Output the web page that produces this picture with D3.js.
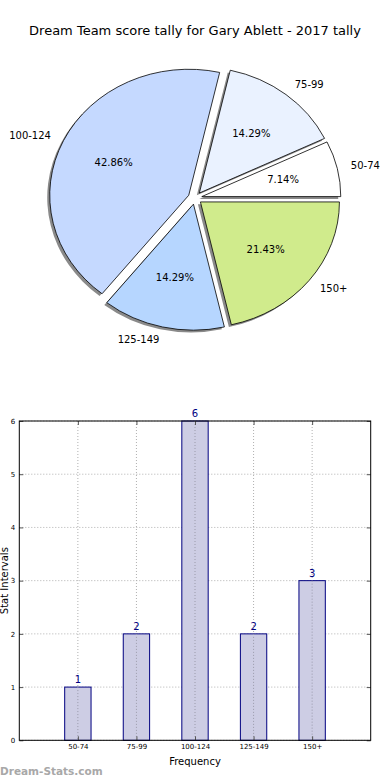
<!DOCTYPE html>
<html>
<head>
<meta charset="utf-8">
<script src="https://cdn.jsdelivr.net/npm/d3@7"></script>
<style>
  body { margin: 0; background: #fff; }
  svg { display: block; font-family: "DejaVu Sans", sans-serif; }
</style>
</head>
<body>
<svg id="chart" width="390" height="780"></svg>
<script>
// Data
const categories = ['50-74', '75-99', '100-124', '125-149', '150+'];
const counts = [1, 2, 6, 2, 3];
const sliceColors = ['#ffffff', '#eaf2ff', '#c5d9ff', '#b6d6ff', '#d0eb8c'];
const yTicks = [0, 1, 2, 3, 4, 5, 6];
const title = 'Dream Team score tally for Gary Ablett - 2017 tally';

const svg = d3.select('#chart');

// Title
svg.append('text')
    .attr('x', 195)
    .attr('y', 30)
    .attr('text-anchor', 'middle')
    .attr('dominant-baseline', 'central')
    .style('font-size', '13px')
    .text(title);

// ---------- Pie (matplotlib style, counter-clockwise from east, exploded) ----------
const cx = 195, cy = 198;
const rx = 139, ry = 126;
const explode = 0.05;
const total = d3.sum(counts);

const pie = d3.pie()
    .sort(null)
    .startAngle(Math.PI / 2)
    .endAngle(Math.PI / 2 - 2 * Math.PI);

const arcs = pie(counts);
const arc = d3.arc().innerRadius(0).outerRadius(rx);

const pieG = svg.append('g');

arcs.forEach(function(a, i) {
    const mid = (a.startAngle + a.endAngle) / 2;
    const ox = cx + explode * rx * Math.sin(mid);
    const oy = cy - explode * ry * Math.cos(mid);

    // shadow
    pieG.append('path')
        .attr('d', arc(a))
        .attr('transform', `translate(${ox - 2.5},${oy + 2.3}) scale(1,${ry / rx})`)
        .attr('fill', '#8a8a8a');

    // wedge
    pieG.append('path')
        .attr('d', arc(a))
        .attr('transform', `translate(${ox},${oy}) scale(1,${ry / rx})`)
        .attr('fill', sliceColors[i])
        .attr('stroke', '#000')
        .attr('stroke-width', 0.8)
        .attr('vector-effect', 'non-scaling-stroke');
});

arcs.forEach(function(a, i) {
    const mid = (a.startAngle + a.endAngle) / 2;
    const s = Math.sin(mid), c = Math.cos(mid);
    const ox = cx + explode * rx * s;
    const oy = cy - explode * ry * c;

    // category label at 1.1 radius
    pieG.append('text')
        .attr('x', ox + 1.1 * rx * s)
        .attr('y', oy - 1.1 * ry * c)
        .attr('text-anchor', s > 0 ? 'start' : 'end')
        .attr('dominant-baseline', 'central')
        .style('font-size', '10px')
        .text(categories[i]);

    // percentage at 0.6 radius
    pieG.append('text')
        .attr('x', ox + 0.6 * rx * s)
        .attr('y', oy - 0.6 * ry * c)
        .attr('text-anchor', 'middle')
        .attr('dominant-baseline', 'central')
        .style('font-size', '10px')
        .text((counts[i] / total * 100).toFixed(2) + '%');
});

// ---------- Bar chart ----------
const plotLeft = 19.3, plotRight = 370.7, plotTop = 421, plotBottom = 740.3;

const x = d3.scaleLinear().domain([-1, 5]).range([plotLeft, plotRight]);
const y = d3.scaleLinear().domain([0, 6]).range([plotBottom, plotTop]);
const barW = 0.45;

const barG = svg.append('g');

// grid
barG.selectAll('.vgrid')
    .data(categories)
    .enter().append('line')
    .attr('x1', (d, i) => x(i)).attr('x2', (d, i) => x(i))
    .attr('y1', plotTop).attr('y2', plotBottom)
    .attr('stroke', '#b0b0b0')
    .attr('stroke-width', 1)
    .attr('stroke-dasharray', '1,2');

barG.selectAll('.hgrid')
    .data(yTicks)
    .enter().append('line')
    .attr('x1', plotLeft).attr('x2', plotRight)
    .attr('y1', d => y(d)).attr('y2', d => y(d))
    .attr('stroke', '#b0b0b0')
    .attr('stroke-width', 1)
    .attr('stroke-dasharray', '1,2');

// bars
barG.selectAll('.bar')
    .data(counts)
    .enter().append('rect')
    .attr('x', (d, i) => x(i - barW / 2))
    .attr('y', d => y(d))
    .attr('width', (d, i) => x(i + barW / 2) - x(i - barW / 2))
    .attr('height', d => plotBottom - y(d))
    .attr('fill', '#cdcde4')
    .attr('stroke', '#000080')
    .attr('stroke-width', 1);

// grid drawn over the bars too
barG.selectAll('.vgrid2')
    .data(counts)
    .enter().append('line')
    .attr('x1', (d, i) => x(i)).attr('x2', (d, i) => x(i))
    .attr('y1', d => y(d))
    .attr('y2', plotBottom)
    .attr('stroke', '#9a9aaa')
    .attr('stroke-width', 1)
    .attr('stroke-dasharray', '1,2');

// value labels
barG.selectAll('.val')
    .data(counts)
    .enter().append('text')
    .attr('x', (d, i) => x(i))
    .attr('y', d => y(d) - 4)
    .attr('text-anchor', 'middle')
    .style('font-size', '10px')
    .style('fill', '#000080')
    .text(d => d);

// axes with inward ticks
const yAxis = d3.axisLeft(y).tickValues(yTicks).tickFormat(d3.format('d'))
    .tickSize(-4).tickPadding(4);
const xAxis = d3.axisBottom(x).tickValues(d3.range(categories.length))
    .tickFormat(i => categories[i]).tickSize(-4).tickPadding(4);

const gy = svg.append('g').attr('transform', `translate(${plotLeft},0)`).call(yAxis);
gy.select('.domain').remove();
gy.selectAll('line').attr('stroke', '#555');
gy.selectAll('text').style('font-size', '7px').attr('font-family', 'DejaVu Sans');

const gx = svg.append('g').attr('transform', `translate(0,${plotBottom})`).call(xAxis);
gx.select('.domain').remove();
gx.selectAll('line').attr('stroke', '#555');
gx.selectAll('text').style('font-size', '7px').attr('font-family', 'DejaVu Sans');

const gr = svg.append('g').attr('transform', `translate(${plotRight},0)`)
    .call(d3.axisRight(y).tickValues(yTicks).tickSize(-4).tickFormat(''));
gr.select('.domain').remove();
gr.selectAll('line').attr('stroke', '#555');

const gt = svg.append('g').attr('transform', `translate(0,${plotTop})`)
    .call(d3.axisTop(x).tickValues(d3.range(categories.length)).tickSize(-4).tickFormat(''));
gt.select('.domain').remove();
gt.selectAll('line').attr('stroke', '#555');

// frame
svg.append('rect')
    .attr('x', plotLeft).attr('y', plotTop)
    .attr('width', plotRight - plotLeft).attr('height', plotBottom - plotTop)
    .attr('fill', 'none')
    .attr('stroke', '#000')
    .attr('stroke-width', 1);

// axis labels
svg.append('text')
    .attr('x', (plotLeft + plotRight) / 2)
    .attr('y', 761)
    .attr('text-anchor', 'middle')
    .attr('dominant-baseline', 'central')
    .style('font-size', '10px')
    .text('Frequency');

svg.append('text')
    .attr('transform', `translate(4,${(plotTop + plotBottom) / 2}) rotate(-90)`)
    .attr('text-anchor', 'middle')
    .attr('dominant-baseline', 'central')
    .style('font-size', '10px')
    .text('Stat Intervals');

// watermark
svg.append('text')
    .attr('x', 0)
    .attr('y', 771)
    .attr('dominant-baseline', 'central')
    .style('font-size', '10.5px')
    .style('font-weight', 'bold')
    .style('fill', '#a8a8a8')
    .text('Dream-Stats.com');
</script>
</body>
</html>
